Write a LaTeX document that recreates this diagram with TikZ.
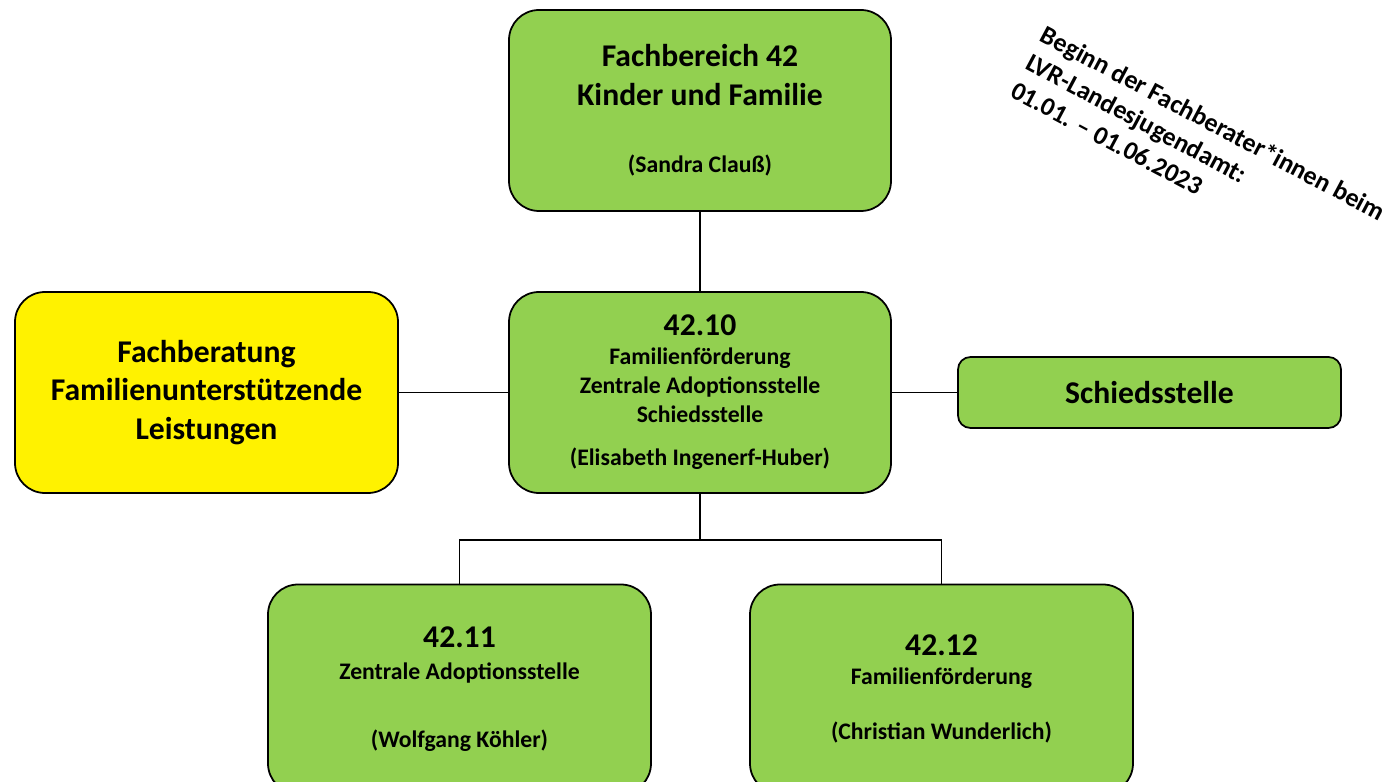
\documentclass[tikz,border=0pt]{standalone}
\usepackage{fontspec}
\setmainfont{Carlito}
\definecolor{fbgreen}{HTML}{92D050}
\newcommand{\titlesize}{\fontsize{18}{22}\selectfont}
\newcommand{\textsize}{\fontsize{13.5}{16.5}\selectfont}

\begin{document}
\begin{tikzpicture}[
	unit/.style={draw, line width=1pt, fill=fbgreen, rounded corners=0.6cm, minimum width=7.64cm, minimum height=4.02cm, inner sep=0pt, align=center, font=\textsize\bfseries},
	line/.style={line width=1pt}
]
	\useasboundingbox (0,0) rectangle (27.9,15.64);
	\node [unit, font=\titlesize\bfseries] (A) at (14.0,13.43) {Fachbereich 42\\Kinder und Familie\\[16.5pt]{\textsize (Sandra Clauß)}};
	\node [unit] (B) at (14.0,7.79) {{\titlesize 42.10}\\Familienförderung\\Zentrale Adoptionsstelle\\Schiedsstelle\\[8pt](Elisabeth Ingenerf-Huber)};
	\node [unit, fill=yellow, minimum width=7.66cm, font=\titlesize\bfseries] (C) at (4.13,7.79) {Fachberatung\\Familienunterstützende\\Leistungen};
	\node [unit, minimum width=7.66cm, minimum height=1.42cm, rounded corners=0.25cm, font=\titlesize\bfseries] (S) at (22.99,7.79) {Schiedsstelle};
	\node [unit, minimum width=7.66cm, minimum height=4.18cm] (D) at (9.19,1.86) {{\titlesize 42.11}\\[1.5pt]Zentrale Adoptionsstelle\\[22pt](Wolfgang Köhler)};
	\node [unit, minimum width=7.66cm, minimum height=4.18cm] (E) at (18.83,1.86) {{\titlesize 42.12}\\Familienförderung\\[15pt](Christian Wunderlich)};
	\node [rotate=-28, anchor=north west, inner sep=0pt, align=left, font=\fontsize{14.8}{18}\selectfont\bfseries] (N) at (20.95,15.17) {Beginn der Fachberater*innen beim\\LVR-Landesjugendamt:\\01.01. – 01.06.2023};
	\coordinate (J) at (14.0,4.84);
	\draw [line] (A) -- (B);
	\draw [line] (C) -- (B);
	\draw [line] (B) -- (S);
	\draw [line] (B) -- (J) -| (D);
	\draw [line] (J) -| (E);
\end{tikzpicture}
\end{document}
